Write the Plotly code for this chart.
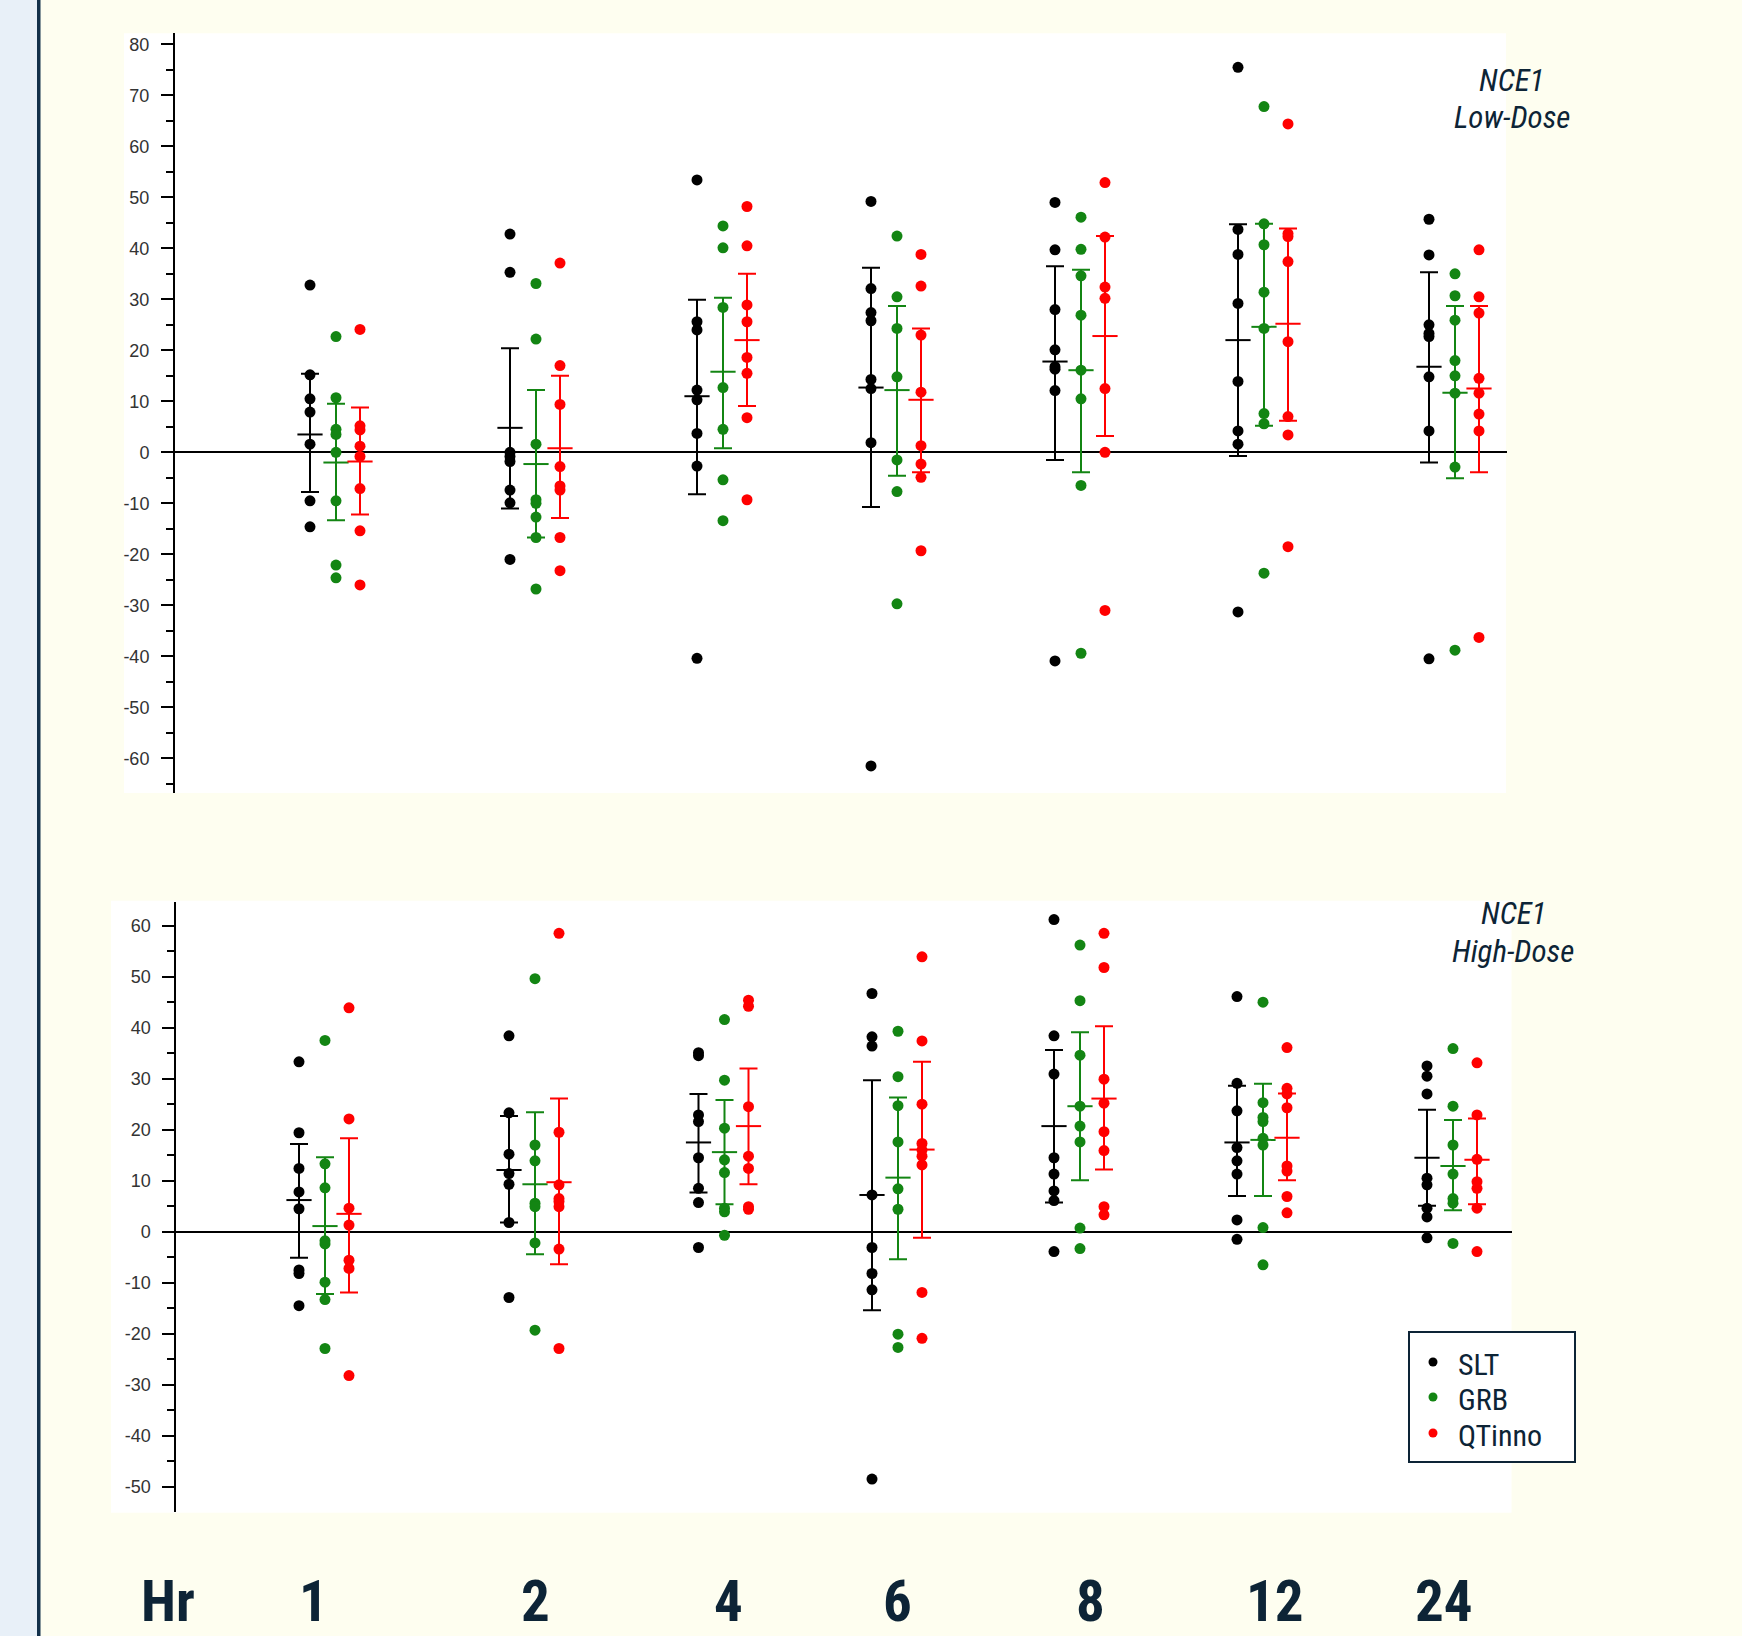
import plotly.graph_objects as go

# ---------------- data ----------------
hours = ["1", "2", "4", "6", "8", "12", "24"]
series_names = ["SLT", "GRB", "QTinno"]
low_ticks = [-60, -50, -40, -30, -20, -10, 0, 10, 20, 30, 40, 50, 60, 70, 80]
high_ticks = [-50, -40, -30, -20, -10, 0, 10, 20, 30, 40, 50, 60]

# NCE1 Low-Dose panel: individual values per hour
low_slt = [[32.8, 15.2, 10.5, 7.9, 1.6, -9.5, -14.6],
           [42.8, 35.3, 0.0, -0.8, -1.8, -7.4, -9.9, -21.0],
           [53.4, 25.6, 24.0, 12.2, 10.3, 3.7, -2.7, -40.4],
           [49.2, 32.1, 27.4, 25.8, 14.3, 12.5, 1.9, -61.5],
           [49.0, 39.7, 28.0, 20.1, 16.8, 16.3, 12.1, -40.9],
           [75.5, 43.7, 38.8, 29.2, 13.9, 4.2, 1.6, -31.3],
           [45.7, 38.7, 25.0, 23.3, 22.7, 14.8, 4.2, -40.5]]
low_grb = [[22.7, 10.7, 4.5, 3.5, 0.0, -9.5, -22.1, -24.6],
           [33.1, 22.2, 1.6, -9.3, -10.0, -12.7, -16.7, -26.8],
           [44.4, 40.1, 28.4, 12.7, 4.5, -5.4, -13.4],
           [42.4, 30.5, 24.3, 14.8, -1.5, -7.7, -29.7],
           [46.1, 39.8, 34.6, 26.9, 16.1, 10.5, -6.5, -39.4],
           [67.8, 44.8, 40.7, 31.4, 24.3, 7.6, 5.6, -23.7],
           [35.0, 30.7, 25.9, 18.0, 15.0, 11.6, -2.9, -38.8]]
low_qt = [[24.1, 5.2, 4.4, 1.2, -0.8, -7.1, -15.4, -26.0],
          [37.1, 17.0, 9.4, -2.8, -6.6, -7.4, -16.7, -23.2],
          [48.2, 40.5, 28.9, 25.6, 18.6, 15.5, 6.8, -9.3],
          [38.8, 32.6, 23.0, 11.8, 1.3, -2.3, -4.9, -19.3],
          [52.9, 42.2, 32.4, 30.2, 12.5, 0.0, -31.0],
          [64.4, 42.9, 42.3, 37.4, 21.7, 7.0, 3.4, -18.5],
          [39.7, 30.5, 27.3, 14.5, 11.6, 7.5, 4.2, -36.3]]

# Low-Dose mean and error-bar ends
low_slt_mean = [3.5, 4.8, 11.0, 12.7, 17.8, 22.0, 16.8]
low_slt_hi = [15.4, 20.4, 29.9, 36.2, 36.5, 44.7, 35.3]
low_slt_lo = [-7.8, -11.0, -8.2, -10.7, -1.5, -0.7, -2.0]
low_grb_mean = [-2.0, -2.3, 15.8, 12.2, 16.1, 24.6, 11.7]
low_grb_hi = [9.5, 12.2, 30.3, 28.7, 35.8, 44.8, 28.7]
low_grb_lo = [-13.3, -16.7, 0.8, -4.6, -3.9, 5.2, -5.1]
low_qt_mean = [-1.8, 0.8, 22.0, 10.3, 22.8, 25.2, 12.5]
low_qt_hi = [8.8, 15.0, 35.0, 24.3, 42.4, 43.9, 28.7]
low_qt_lo = [-12.2, -12.9, 9.1, -3.9, 3.2, 6.2, -3.9]

# NCE1 High-Dose panel: individual values per hour
high_slt = [[33.3, 19.4, 12.4, 7.8, 4.5, -7.5, -8.2, -14.5],
            [38.4, 23.3, 15.2, 11.4, 9.3, 1.8, -12.9],
            [35.1, 34.5, 22.9, 21.6, 14.5, 8.5, 5.7, -3.1],
            [46.7, 38.2, 36.4, 7.2, -3.1, -8.2, -11.4, -48.5],
            [61.2, 38.4, 30.9, 14.5, 11.3, 8.0, 6.1, -3.9],
            [46.1, 29.1, 23.7, 16.5, 13.9, 11.3, 2.3, -1.5],
            [32.5, 30.5, 27.0, 10.5, 9.2, 4.6, 2.9, -1.2]]
high_grb = [[37.5, 13.3, 8.6, -1.8, -2.4, -9.9, -13.3, -22.9],
            [49.6, 17.0, 13.9, 5.6, 4.9, -2.2, -19.3],
            [41.6, 29.7, 20.3, 14.1, 11.6, 4.6, 3.9, -0.7],
            [39.3, 30.4, 24.7, 17.6, 8.4, 4.4, -20.1, -22.7],
            [56.2, 45.3, 34.6, 24.6, 20.7, 17.6, 0.7, -3.3],
            [45.0, 25.3, 22.4, 21.6, 18.3, 17.0, 0.8, -6.5],
            [35.9, 24.6, 17.0, 11.3, 6.5, 5.6, -2.3]]
high_qt = [[43.9, 22.1, 4.6, 1.3, -5.6, -7.2, -28.2],
           [58.5, 19.5, 9.2, 6.5, 5.9, 4.9, -3.4, -22.9],
           [45.4, 44.2, 24.5, 14.8, 12.4, 4.9, 4.4],
           [53.9, 37.4, 25.0, 17.3, 16.0, 14.8, 13.1, -11.9, -20.9],
           [58.5, 51.8, 29.9, 25.2, 19.6, 15.9, 4.9, 3.3],
           [36.1, 28.1, 27.0, 24.3, 12.9, 11.9, 6.9, 3.7],
           [33.1, 22.9, 14.2, 9.8, 8.5, 4.6, -3.9]]

high_slt_mean = [6.2, 12.1, 17.5, 7.2, 20.7, 17.5, 14.5]
high_slt_hi = [17.2, 22.7, 27.0, 29.7, 35.6, 28.6, 23.9]
high_slt_lo = [-5.1, 1.8, 7.7, -15.4, 5.7, 7.0, 5.1]
high_grb_mean = [1.1, 9.3, 15.6, 10.6, 24.6, 18.0, 12.9]
high_grb_hi = [14.6, 23.4, 25.8, 26.3, 39.1, 29.0, 21.9]
high_grb_lo = [-12.2, -4.4, 5.4, -5.4, 10.1, 7.0, 4.2]
high_qt_mean = [3.5, 9.7, 20.7, 16.1, 26.1, 18.4, 14.1]
high_qt_hi = [18.3, 26.1, 32.0, 33.3, 40.3, 27.1, 22.2]
high_qt_lo = [-11.9, -6.4, 9.3, -1.2, 12.2, 10.1, 5.4]

# ---------------- layout constants ----------------
W, H = 1742, 1636
NAVY = "#0D2436"
CREAM = "#FEFEF0"
NARROW = "Liberation Sans Narrow, Arial Narrow, Roboto Condensed, DejaVu Sans Condensed, Liberation Sans, sans-serif"
colors = {"SLT": "#000000", "GRB": "#138513", "QTinno": "#FF0000"}
offsets = {"SLT": -26, "GRB": 0, "QTinno": 24}
# hour-slot centres on each panel's x scale
slots_low = [336, 536, 723, 897, 1081, 1264, 1455]
slots_high = [325, 535, 724.5, 898, 1080, 1263, 1453]


def fx(p):
    return p / W


def fy(p):
    return 1 - p / H


fig = go.Figure()

panels = [
    dict(xa="x", ya="y", slots=slots_low,
         vals={"SLT": low_slt, "GRB": low_grb, "QTinno": low_qt},
         mean={"SLT": low_slt_mean, "GRB": low_grb_mean, "QTinno": low_qt_mean},
         hi={"SLT": low_slt_hi, "GRB": low_grb_hi, "QTinno": low_qt_hi},
         lo={"SLT": low_slt_lo, "GRB": low_grb_lo, "QTinno": low_qt_lo}),
    dict(xa="x2", ya="y2", slots=slots_high,
         vals={"SLT": high_slt, "GRB": high_grb, "QTinno": high_qt},
         mean={"SLT": high_slt_mean, "GRB": high_grb_mean, "QTinno": high_qt_mean},
         hi={"SLT": high_slt_hi, "GRB": high_grb_hi, "QTinno": high_qt_hi},
         lo={"SLT": high_slt_lo, "GRB": high_grb_lo, "QTinno": high_qt_lo}),
]

for pn in panels:
    for s in series_names:
        xs, ys = [], []
        for i, vals in enumerate(pn["vals"][s]):
            for v in vals:
                xs.append(pn["slots"][i] + offsets[s])
                ys.append(v)
        xm = [pn["slots"][i] + offsets[s] for i in range(len(hours))]
        m = pn["mean"][s]
        up = [h - mm for h, mm in zip(pn["hi"][s], m)]
        dn = [mm - l for mm, l in zip(m, pn["lo"][s])]
        fig.add_trace(go.Scatter(
            x=xm, y=m, xaxis=pn["xa"], yaxis=pn["ya"], mode="markers",
            marker=dict(symbol="line-ew", size=18, line=dict(color=colors[s], width=2)),
            error_y=dict(type="data", symmetric=False, array=up, arrayminus=dn,
                         color=colors[s], thickness=2, width=9),
            showlegend=False, hoverinfo="skip"))
        fig.add_trace(go.Scatter(
            x=xs, y=ys, xaxis=pn["xa"], yaxis=pn["ya"], mode="markers",
            marker=dict(size=11, color=colors[s]), name=s, showlegend=False))


def yaxis_common(ticks):
    return dict(
        showline=True, linecolor="black", linewidth=2, ticks="outside", ticklen=12,
        tickwidth=2, tickcolor="black", showgrid=False,
        tickmode="array", tickvals=ticks, ticktext=[str(t) for t in ticks],
        zeroline=True, zerolinecolor="black", zerolinewidth=2,
        tickfont=dict(family="Liberation Sans, Arial, sans-serif", size=18, color="#333333"),
        ticklabelstandoff=8,
        minor=dict(dtick=5, tick0=0, ticks="outside", ticklen=7, tickwidth=2,
                   tickcolor="black", showgrid=False),
    )


xaxis_common = dict(showline=False, showticklabels=False, showgrid=False, zeroline=False, ticks="")

fig.update_layout(
    width=W, height=H, autosize=False,
    margin=dict(l=0, r=0, t=0, b=0),
    paper_bgcolor=CREAM, plot_bgcolor="rgba(0,0,0,0)",
    xaxis=dict(domain=[fx(175), fx(1506.6)], range=[175, 1506.6], **xaxis_common),
    yaxis=dict(domain=[fy(793), fy(33.3)], range=[-66.8, 82.16], anchor="x", **yaxis_common(low_ticks)),
    xaxis2=dict(domain=[fx(176.4), fx(1511.5)], range=[176.4, 1511.5], anchor="y2", **xaxis_common),
    yaxis2=dict(domain=[fy(1511.7), fy(901.7)], range=[-54.9, 64.7], anchor="x2", **yaxis_common(high_ticks)),
    showlegend=False,
)

shapes = [
    dict(type="rect", xref="paper", yref="paper", x0=0, x1=fx(37), y0=0, y1=1,
         fillcolor="#E8F0F8", line_width=0, layer="below"),
    dict(type="rect", xref="paper", yref="paper", x0=fx(37), x1=fx(40.5), y0=0, y1=1,
         fillcolor="#12304A", line_width=0, layer="below"),
    dict(type="rect", xref="paper", yref="paper", x0=fx(124), x1=fx(1506), y0=fy(793), y1=fy(33.3),
         fillcolor="white", line_width=0, layer="below"),
    dict(type="rect", xref="paper", yref="paper", x0=fx(111), x1=fx(1511.5), y0=fy(1512.7), y1=fy(900.7),
         fillcolor="white", line_width=0, layer="below"),
    # legend box
    dict(type="rect", xref="paper", yref="paper", x0=fx(1409), x1=fx(1575), y0=fy(1462), y1=fy(1332),
         fillcolor="white", line=dict(color=NAVY, width=2), layer="above"),
]

annos = []
legend_rows = [1362, 1397, 1433]
for s, ry in zip(series_names, legend_rows):
    shapes.append(dict(type="circle", xref="paper", yref="paper",
                       x0=fx(1433 - 4.5), x1=fx(1433 + 4.5), y0=fy(ry + 4.5), y1=fy(ry - 4.5),
                       fillcolor=colors[s], line_width=0, layer="above"))
    annos.append(dict(text=s, xref="paper", yref="paper", x=fx(1456), y=fy(ry + 2),
                      xanchor="left", yanchor="middle", showarrow=False,
                      font=dict(family=NARROW, size=30, color=NAVY)))
fig.update_layout(shapes=shapes)

panel_titles = [("NCE1", 1511.5, 80), ("Low-Dose", 1511.5, 118),
                ("NCE1", 1513, 913), ("High-Dose", 1513, 951)]
for t, x, y in panel_titles:
    annos.append(dict(text="<i>" + t + "</i>", xref="paper", yref="paper", x=fx(x), y=fy(y),
                      xanchor="center", yanchor="middle", showarrow=False,
                      font=dict(family=NARROW, size=31, color=NAVY)))

label_x = [313, 535, 728, 897, 1090.6, 1275, 1444]
annos.append(dict(text="<b>Hr</b>", xref="paper", yref="paper", x=fx(168), y=fy(1601),
                  xanchor="center", yanchor="middle", showarrow=False,
                  font=dict(family=NARROW, size=57, color=NAVY)))
for h, x in zip(hours, label_x):
    annos.append(dict(text="<b>" + h + "</b>", xref="paper", yref="paper", x=fx(x), y=fy(1601),
                      xanchor="center", yanchor="middle", showarrow=False,
                      font=dict(family=NARROW, size=57, color=NAVY)))
fig.update_layout(annotations=annos)

fig.write_html("out.html", config={"displayModeBar": False},
               post_script="document.body.style.margin='0';")
